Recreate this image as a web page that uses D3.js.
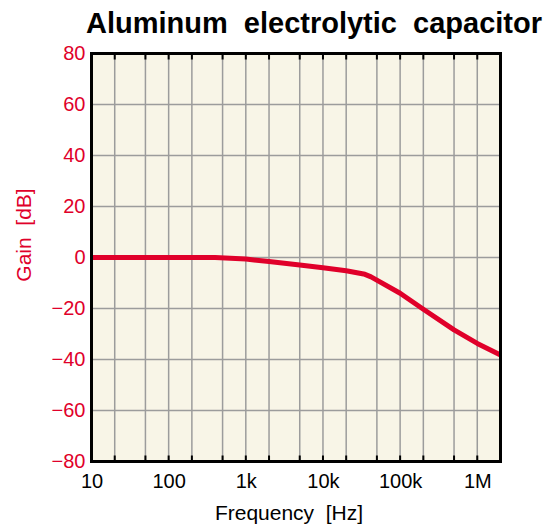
<!DOCTYPE html>
<html>
<head>
<meta charset="utf-8">
<script src="https://cdn.jsdelivr.net/npm/d3@7"></script>
<style>
  body { margin: 0; background: #fff; }
  text { font-family: "Liberation Sans", Arial, Helvetica, sans-serif; }
</style>
</head>
<body>
<script>
// gain curve
var freqs = [10, 100, 400, 1000, 2000, 5000, 10000, 20000, 35000, 42000, 100000, 200000, 500000, 1000000, 2000000];
var gains = [0, 0, 0, -0.6, -1.6, -2.9, -4.0, -5.2, -6.6, -7.6, -14.0, -20.3, -28.4, -33.7, -38.2];

var xTickValues = [10, 100, 1000, 10000, 100000, 1000000];
var xTickLabels = ["10", "100", "1k", "10k", "100k", "1M"];
var gridFreqs = [20, 50, 100, 200, 500, 1000, 2000, 5000, 10000, 20000, 50000, 100000, 200000, 500000, 1000000];
var yTickValues = [-80, -60, -40, -20, 0, 20, 40, 60, 80];

var width = 547, height = 527;
var red = "#e0002a";

var svg = d3.select("body").append("svg")
    .attr("width", width)
    .attr("height", height);

// setup x (log) and y
var xScale = d3.scaleLog().domain([10, 2000000]).range([91.5, 500.5]);
var yScale = d3.scaleLinear().domain([-80, 80]).range([461.5, 53.5]);

var plotLeft = xScale.range()[0], plotRight = xScale.range()[1];
var plotTop = yScale.range()[1], plotBottom = yScale.range()[0];

// plot background
svg.append("rect")
    .attr("x", plotLeft).attr("y", plotTop)
    .attr("width", plotRight - plotLeft).attr("height", plotBottom - plotTop)
    .attr("fill", "#f8f5e7");

// grid
svg.append("g").selectAll("line")
    .data(gridFreqs)
    .enter().append("line")
    .attr("x1", function (d) { return xScale(d); })
    .attr("x2", function (d) { return xScale(d); })
    .attr("y1", plotTop).attr("y2", plotBottom)
    .attr("stroke", "#9c9c9c").attr("stroke-width", 1.5);

svg.append("g").selectAll("line")
    .data(yTickValues.slice(1, -1))
    .enter().append("line")
    .attr("x1", plotLeft).attr("x2", plotRight)
    .attr("y1", function (d) { return yScale(d); })
    .attr("y2", function (d) { return yScale(d); })
    .attr("stroke", "#9c9c9c").attr("stroke-width", 1.5);

// black tick marks top and bottom
[plotTop, plotBottom].forEach(function (yy, i) {
    svg.append("g").selectAll("line")
        .data(gridFreqs)
        .enter().append("line")
        .attr("x1", function (d) { return xScale(d); })
        .attr("x2", function (d) { return xScale(d); })
        .attr("y1", yy).attr("y2", i == 0 ? yy + 6 : yy - 6)
        .attr("stroke", "#000").attr("stroke-width", 2);
});

// curve
var line = d3.line()
    .x(function (d, i) { return xScale(freqs[i]); })
    .y(function (d) { return yScale(d); });

svg.append("path")
    .datum(gains)
    .attr("d", line)
    .attr("fill", "none")
    .attr("stroke", red)
    .attr("stroke-width", 5)
    .attr("stroke-linejoin", "round");

// frame
svg.append("rect")
    .attr("x", plotLeft).attr("y", plotTop)
    .attr("width", plotRight - plotLeft).attr("height", plotBottom - plotTop)
    .attr("fill", "none")
    .attr("stroke", "#000").attr("stroke-width", 3);

// y axis labels
var yAxis = d3.axisLeft(yScale)
    .tickValues(yTickValues)
    .tickSize(0)
    .tickPadding(6)
    .tickFormat(function (d) { return d < 0 ? "\u2212" + Math.abs(d) : d; });

var gy = svg.append("g")
    .attr("transform", "translate(" + plotLeft + ",0)")
    .call(yAxis);
gy.select(".domain").remove();
gy.selectAll("text")
    .attr("fill", red)
    .style("font-size", "20px")
    .style("font-family", "'Liberation Sans', Arial, sans-serif");

// x axis labels
var xAxis = d3.axisBottom(xScale)
    .tickValues(xTickValues)
    .tickSize(0)
    .tickPadding(12)
    .tickFormat(function (d, i) { return xTickLabels[i]; });

var gx = svg.append("g")
    .attr("transform", "translate(0," + plotBottom + ")")
    .call(xAxis);
gx.select(".domain").remove();
gx.selectAll("text")
    .attr("fill", "#000")
    .style("font-size", "20px")
    .style("font-family", "'Liberation Sans', Arial, sans-serif");

// title and axis titles
svg.append("text")
    .attr("x", 314).attr("y", 33)
    .attr("text-anchor", "middle")
    .style("font-size", "29px")
    .style("font-weight", "bold")
    .style("white-space", "pre")
    .text("Aluminum  electrolytic  capacitor");

svg.append("text")
    .attr("x", 289).attr("y", 520)
    .attr("text-anchor", "middle")
    .style("font-size", "21px")
    .style("white-space", "pre")
    .text("Frequency  [Hz]");

svg.append("text")
    .attr("transform", "translate(31,235) rotate(-90)")
    .attr("text-anchor", "middle")
    .attr("fill", red)
    .style("font-size", "21px")
    .style("white-space", "pre")
    .text("Gain  [dB]");
</script>
</body>
</html>
